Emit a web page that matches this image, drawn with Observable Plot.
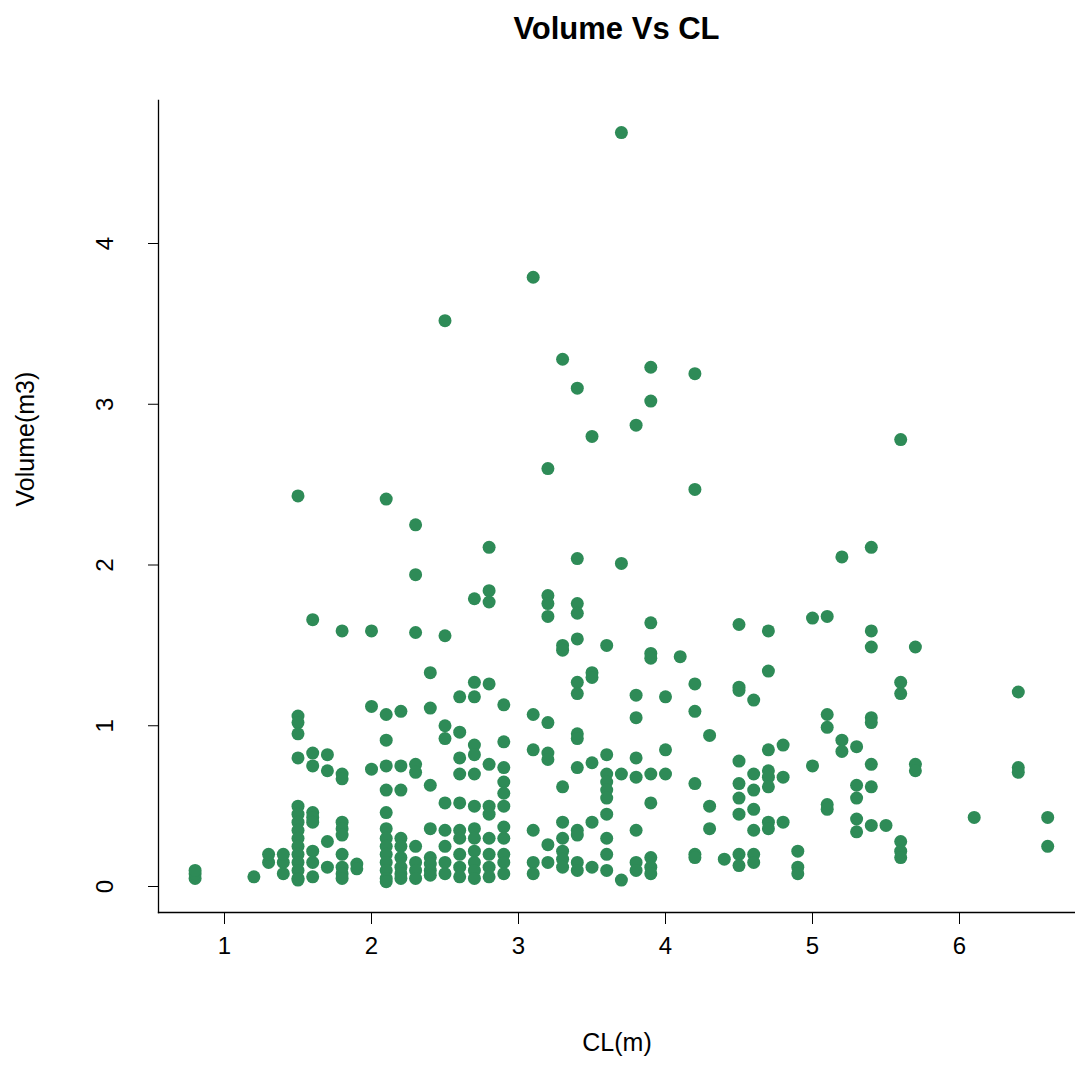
<!DOCTYPE html>
<html><head><meta charset="utf-8">
<script src="https://cdn.jsdelivr.net/npm/d3@7"></script>
<script src="https://cdn.jsdelivr.net/npm/@observablehq/plot@0.6"></script>
<style>
body{margin:0;background:#fff;font-family:"Liberation Sans",Arial,sans-serif;}
#wrap{position:relative;width:1075px;height:1074px;overflow:hidden;}
#title{position:absolute;top:11px;left:158px;width:917px;text-align:center;font-weight:bold;font-size:31px;}
</style></head><body>
<div id="wrap"><div id="title">Volume Vs CL</div><div id="chart"></div></div>
<script>
const columns = [
 [0.8,[0.05,0.08,0.1]],
 [1.2,[0.06]],
 [1.3,[0.15,0.2]],
 [1.4,[0.08,0.15,0.2]],
 [1.5,[2.43,1.06,1.02,0.95,0.8,0.5,0.45,0.4,0.35,0.3,0.25,0.2,0.15,0.1,0.05,0.04]],
 [1.6,[1.66,0.83,0.75,0.46,0.43,0.4,0.22,0.15,0.06]],
 [1.7,[0.82,0.72,0.28,0.12]],
 [1.8,[1.59,0.7,0.67,0.4,0.36,0.32,0.2,0.12,0.08,0.05]],
 [1.9,[0.14,0.11]],
 [2.0,[1.59,1.12,0.73]],
 [2.1,[2.41,1.07,0.91,0.75,0.6,0.46,0.36,0.3,0.25,0.2,0.15,0.1,0.05,0.03]],
 [2.2,[1.09,0.75,0.6,0.3,0.25,0.18,0.12,0.08,0.05]],
 [2.3,[2.25,1.94,1.58,0.76,0.71,0.25,0.15,0.1,0.05]],
 [2.4,[1.33,1.11,0.63,0.36,0.18,0.14,0.1,0.07]],
 [2.5,[3.52,1.56,1.0,0.92,0.52,0.35,0.25,0.15,0.08]],
 [2.6,[1.18,0.96,0.8,0.7,0.52,0.35,0.3,0.2,0.12,0.06]],
 [2.7,[1.79,1.27,1.18,0.88,0.82,0.7,0.5,0.36,0.3,0.22,0.15,0.1,0.05]],
 [2.8,[2.11,1.84,1.77,1.26,0.76,0.5,0.45,0.3,0.2,0.12,0.06]],
 [2.9,[1.13,0.9,0.74,0.65,0.58,0.5,0.37,0.3,0.2,0.15,0.08]],
 [3.1,[3.79,1.07,0.85,0.35,0.15,0.08]],
 [3.2,[2.6,1.81,1.76,1.68,1.02,0.83,0.79,0.26,0.15]],
 [3.3,[3.28,1.5,1.47,0.62,0.4,0.3,0.22,0.17,0.12]],
 [3.4,[3.1,2.04,1.76,1.7,1.54,1.27,1.2,0.95,0.92,0.74,0.35,0.32,0.15,0.1]],
 [3.5,[2.8,1.33,1.3,0.77,0.4,0.12]],
 [3.6,[1.5,0.82,0.7,0.65,0.6,0.55,0.45,0.3,0.2,0.1]],
 [3.7,[4.69,2.01,0.7,0.04]],
 [3.8,[2.87,1.19,1.05,0.8,0.68,0.35,0.15,0.1]],
 [3.9,[3.23,3.02,1.64,1.45,1.42,0.7,0.52,0.18,0.12,0.08]],
 [4.0,[1.18,0.85,0.7]],
 [4.1,[1.43]],
 [4.2,[3.19,2.47,1.26,1.09,0.64,0.2,0.18]],
 [4.3,[0.94,0.5,0.36]],
 [4.4,[0.17]],
 [4.5,[1.63,1.24,1.22,0.78,0.64,0.55,0.45,0.2,0.13]],
 [4.6,[1.16,0.7,0.6,0.48,0.35,0.2,0.15]],
 [4.7,[1.59,1.34,0.85,0.72,0.68,0.62,0.4,0.36]],
 [4.8,[0.88,0.68,0.4]],
 [4.9,[0.22,0.12,0.08]],
 [5.0,[1.67,0.75]],
 [5.1,[1.68,1.07,0.99,0.51,0.48]],
 [5.2,[2.05,0.91,0.84]],
 [5.3,[0.87,0.63,0.55,0.42,0.34]],
 [5.4,[2.11,1.59,1.49,1.05,1.02,0.76,0.62,0.38]],
 [5.5,[0.38]],
 [5.6,[2.78,1.27,1.2,0.28,0.22,0.18]],
 [5.7,[1.49,0.76,0.72]],
 [6.1,[0.43]],
 [6.4,[1.21,0.74,0.71]],
 [6.6,[0.43,0.25]]
];
const xTicks=[1,2,3,4,5,6];
const yTicks=[0,1,2,3,4];
const data = columns.flatMap(([cl,vs])=>vs.map(v=>({cl,v})));
const chart = Plot.plot({
  width:1075, height:1074,
  marginLeft:158, marginBottom:162, marginTop:100, marginRight:0,
  style:{fontFamily:"Liberation Sans, Arial, sans-serif", fontSize:"24px", color:"#000", background:"#fff"},
  x:{domain:[1,6], range:[224,959]},
  y:{domain:[0,4], range:[886,243]},
  marks:[
    Plot.frame({anchor:"left", stroke:"#000", strokeWidth:1.3}),
    Plot.frame({anchor:"bottom", stroke:"#000", strokeWidth:1.3}),
    Plot.axisX({ticks:xTicks, tickSize:12, tickPadding:12, tickFormat:d=>d, label:null, fontSize:24}),
    Plot.axisY({ticks:yTicks, tickSize:10, tickRotate:-90, tickPadding:36, textAnchor:"middle", tickFormat:d=>d, label:null, fontSize:24}),
    Plot.dot(data,{x:"cl", y:"v", r:6.5, fill:"#2e8b57", stroke:"none"}),
    Plot.text(["CL(m)"],{frameAnchor:"bottom", dy:138, text:d=>d, fontSize:25}),
    Plot.text(["Volume(m3)"],{frameAnchor:"left", dx:-133, rotate:-90, text:d=>d, fontSize:25})
  ]
});
document.getElementById("chart").appendChild(chart);
</script></body></html>
